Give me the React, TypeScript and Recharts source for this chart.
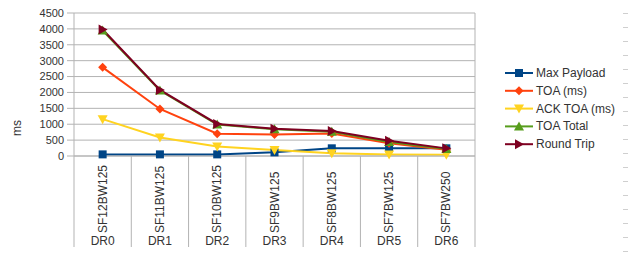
import { LineChart, Line, XAxis, YAxis, CartesianGrid } from 'recharts';

const categories = ['SF12BW125', 'SF11BW125', 'SF10BW125', 'SF9BW125', 'SF8BW125', 'SF7BW125', 'SF7BW250'];
const drLabels = ['DR0', 'DR1', 'DR2', 'DR3', 'DR4', 'DR5', 'DR6'];

const maxPayload = [51, 51, 51, 115, 242, 242, 242];
const toaMs = [2790, 1480, 700, 680, 710, 400, 200];
const ackToaMs = [1160, 580, 300, 190, 90, 50, 40];
const toaTotal = [3950, 2060, 990, 840, 760, 440, 220];
const roundTrip = [3980, 2080, 1010, 860, 790, 480, 240];

const yTicks = [0, 500, 1000, 1500, 2000, 2500, 3000, 3500, 4000, 4500];

type Shape = 'square' | 'diamond' | 'down' | 'up' | 'right';

const series: { key: string; name: string; color: string; shape: Shape }[] = [
  { key: 'payload', name: 'Max Payload', color: '#004586', shape: 'square' },
  { key: 'toa', name: 'TOA (ms)', color: '#ff420e', shape: 'diamond' },
  { key: 'ack', name: 'ACK TOA (ms)', color: '#ffd320', shape: 'down' },
  { key: 'total', name: 'TOA Total', color: '#579d1c', shape: 'up' },
  { key: 'rt', name: 'Round Trip', color: '#7e0021', shape: 'right' },
];

const data = categories.map((sf, i) => ({
  sf,
  payload: maxPayload[i],
  toa: toaMs[i],
  ack: ackToaMs[i],
  total: toaTotal[i],
  rt: roundTrip[i],
}));

const W = 629;
const H = 253;
const PLOT_L = 74;
const PLOT_R = 475;
const PLOT_T = 13;
const PLOT_B = 156;
const BAND = (PLOT_R - PLOT_L) / categories.length;
const FONT = '"Liberation Sans", Arial, sans-serif';
const GRID = '#b3b3b3';
const TEXT = '#333333';

function Marker({ cx, cy, shape, color }: { cx: number; cy: number; shape: Shape; color: string }) {
  if (cx == null || cy == null) return null;
  const s = 4.5;
  let d = '';
  if (shape === 'square') d = `M${cx - 4},${cy - 4}h8v8h-8z`;
  else if (shape === 'diamond') d = `M${cx},${cy - s}L${cx + s},${cy}L${cx},${cy + s}L${cx - s},${cy}z`;
  else if (shape === 'down') d = `M${cx - 5},${cy - 4}L${cx + 5},${cy - 4}L${cx},${cy + 5}z`;
  else if (shape === 'up') d = `M${cx - 5},${cy + 4}L${cx + 5},${cy + 4}L${cx},${cy - 5}z`;
  else d = `M${cx - 4},${cy - 5}L${cx - 4},${cy + 5}L${cx + 5},${cy}z`;
  return <path d={d} fill={color} stroke="none" />;
}

// grouped two-level category axis: rotated SF label + DR label, separators between groups
function CategoryTick(props: any) {
  const { x, index, payload } = props;
  const last = index === categories.length - 1;
  return (
    <g>
      <line x1={x - BAND / 2} x2={x - BAND / 2} y1={PLOT_B} y2={247} stroke={GRID} />
      {last && <line x1={x + BAND / 2} x2={x + BAND / 2} y1={PLOT_T} y2={247} stroke={GRID} />}
      <text
        x={x + 4}
        y={233}
        transform={`rotate(-90 ${x + 4} 233)`}
        fontSize={12}
        fontFamily={FONT}
        fill={TEXT}
        textAnchor="start"
      >
        {payload.value}
      </text>
      <text x={x} y={245} fontSize={12} fontFamily={FONT} fill={TEXT} textAnchor="middle">
        {drLabels[index]}
      </text>
    </g>
  );
}

function LegendBox() {
  return (
    <svg width={120} height={90} style={{ position: 'absolute', left: 505, top: 66 }}>
      {series.map((s, i) => {
        const y = 7 + i * 17.8;
        return (
          <g key={s.key}>
            <line x1={0} x2={28} y1={y} y2={y} stroke={s.color} strokeWidth={2} />
            <Marker cx={14} cy={y} shape={s.shape} color={s.color} />
            <text x={31} y={y + 4} fontSize={12} fontFamily={FONT} fill={TEXT}>
              {s.name}
            </text>
          </g>
        );
      })}
    </svg>
  );
}

export default function App() {
  return (
    <div style={{ position: 'absolute', left: 0, top: 0, width: W, height: H, background: '#fff' }}>
      <LineChart
        width={W}
        height={H}
        data={data}
        margin={{ top: PLOT_T, right: W - PLOT_R, bottom: 0, left: 0 }}
      >
        <CartesianGrid vertical={false} stroke={GRID} />
        <XAxis
          dataKey="sf"
          height={H - PLOT_B}
          interval={0}
          padding={{ left: BAND / 2, right: BAND / 2 }}
          axisLine={{ stroke: GRID }}
          tickLine={false}
          tick={<CategoryTick />}
        />
        <YAxis
          width={PLOT_L}
          domain={[0, 4500]}
          ticks={yTicks}
          interval={0}
          tickSize={7}
          tickMargin={3}
          axisLine={{ stroke: GRID }}
          tickLine={{ stroke: GRID }}
          tick={{ fontSize: 11, fontFamily: FONT, fill: TEXT }}
        />
        {series.map(s => (
          <Line
            key={s.key}
            dataKey={s.key}
            name={s.name}
            stroke={s.color}
            strokeWidth={2}
            type="linear"
            isAnimationActive={false}
            dot={(p: any) => <Marker key={`${s.key}-${p.index}`} cx={p.cx} cy={p.cy} shape={s.shape} color={s.color} />}
            activeDot={false}
          />
        ))}
      </LineChart>
      <LegendBox />
      <div
        style={{
          position: 'absolute',
          left: 7,
          top: 118,
          width: 20,
          height: 20,
          display: 'flex',
          alignItems: 'center',
          justifyContent: 'center',
          transform: 'rotate(-90deg)',
          fontFamily: FONT,
          fontSize: 12,
          color: TEXT,
        }}
      >
        ms
      </div>
      <div
        style={{
          position: 'absolute',
          left: 623,
          top: 0,
          width: 5,
          height: H,
          background: 'repeating-linear-gradient(to bottom, transparent 0px, transparent 13px, #cfcfcf 13px, #cfcfcf 14px)',
        }}
      />
    </div>
  );
}
